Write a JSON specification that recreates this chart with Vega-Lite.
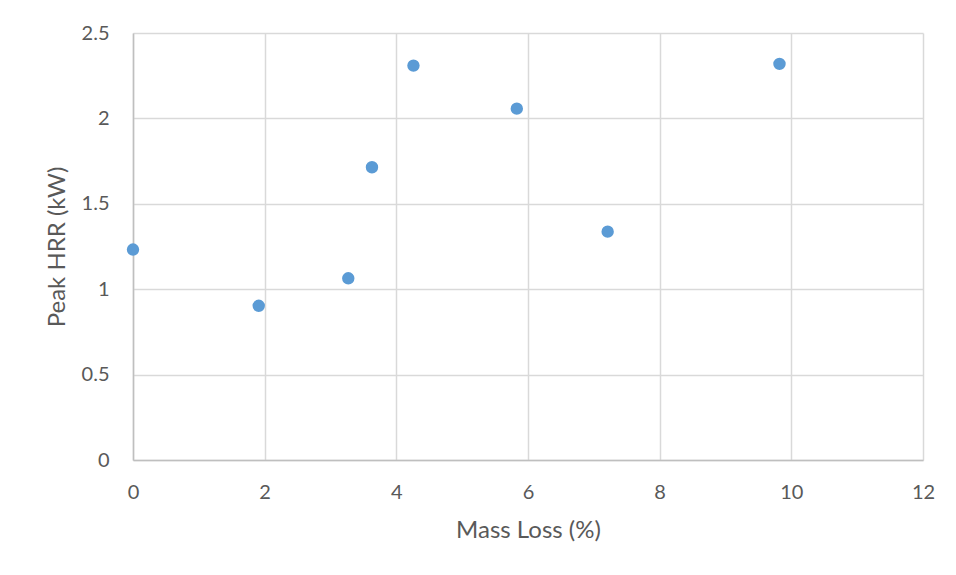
{
  "$schema": "https://vega.github.io/schema/vega-lite/v6.json",
  "width": 790,
  "height": 427,
  "autosize": {"type": "none"},
  "padding": {"left": 133, "top": 33, "right": 33, "bottom": 115},
  "background": "white",
  "config": {
    "view": {"stroke": null},
    "font": "Lato",
    "axis": {
      "labelFont": "Lato",
      "titleFont": "Lato",
      "labelColor": "#595959",
      "titleColor": "#595959",
      "labelFontSize": 20,
      "titleFontSize": 24,
      "titleFontWeight": "normal",
      "gridColor": "#d9d9d9",
      "gridWidth": 1.5,
      "domainColor": "#bfbfbf",
      "domainWidth": 1.5,
      "ticks": false
    }
  },
  "data": {
    "values": [
      {"mass_loss": 0.0, "peak_hrr": 1.232},
      {"mass_loss": 1.91, "peak_hrr": 0.903},
      {"mass_loss": 3.27, "peak_hrr": 1.064},
      {"mass_loss": 3.63, "peak_hrr": 1.714},
      {"mass_loss": 4.26, "peak_hrr": 2.309},
      {"mass_loss": 5.83, "peak_hrr": 2.057},
      {"mass_loss": 7.21, "peak_hrr": 1.337},
      {"mass_loss": 9.82, "peak_hrr": 2.319}
    ]
  },
  "mark": {"type": "circle", "size": 154, "color": "#5B9BD5", "opacity": 1},
  "encoding": {
    "x": {
      "field": "mass_loss",
      "type": "quantitative",
      "title": "Mass Loss (%)",
      "scale": {"domain": [0, 12], "nice": false},
      "axis": {"values": [0, 2, 4, 6, 8, 10, 12], "format": "~g", "labelPadding": 22, "titlePadding": 16, "labelFlush": false}
    },
    "y": {
      "field": "peak_hrr",
      "type": "quantitative",
      "title": "Peak HRR (kW)",
      "scale": {"domain": [0, 2.5], "nice": false},
      "axis": {"values": [0, 0.5, 1, 1.5, 2, 2.5], "format": "~g", "labelPadding": 24, "titlePadding": 12, "labelFlush": false}
    }
  }
}
